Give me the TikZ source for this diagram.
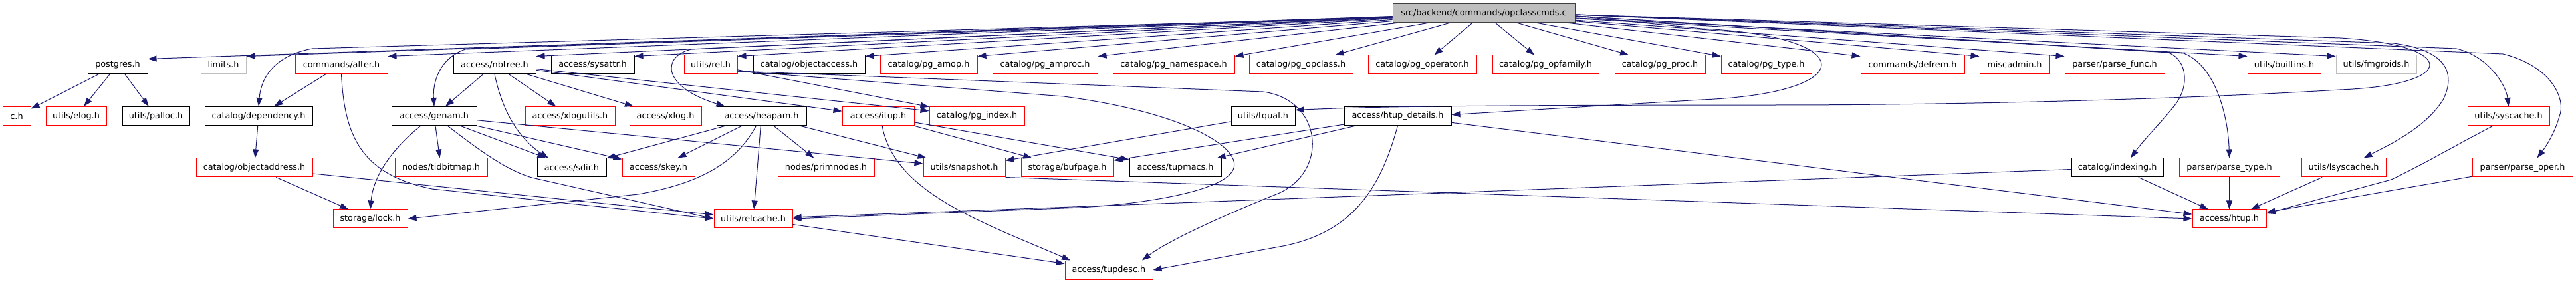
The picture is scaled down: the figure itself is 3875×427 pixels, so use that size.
\documentclass[tikz,border=0pt]{standalone}
\usepackage{fontspec}
\setmainfont{DejaVu Sans}
\usetikzlibrary{arrows.meta}
\definecolor{edgec}{HTML}{191970}
\definecolor{redb}{HTML}{FF0000}
\definecolor{grayb}{HTML}{BFBFBF}
\definecolor{rootfill}{HTML}{BFBFBF}
\tikzset{
 box/.style={draw, line width=1pt, minimum height=28pt, inner sep=0pt, font=\fontsize{12.8}{14}\selectfont, anchor=center},
 blk/.style={box, draw=black},
 redn/.style={box, draw=redb},
 grayn/.style={box, draw=grayb},
 rootn/.style={box, draw=black!75, fill=rootfill},
 edge/.style={draw=edgec, line width=1pt, -{Triangle[length=13pt,width=9pt]}},
}
\begin{document}
\begin{tikzpicture}[x=1pt,y=-1pt]
\useasboundingbox (0,0) rectangle (3875,427);
% root
\node[rootn, minimum width=274pt] (root) at (2232,20) {src/backend/commands/opclasscmds.c};
% row 1
\node[blk, minimum width=90pt] (postgres) at (177,97) {postgres.h};
\node[grayn, minimum width=68pt] (limits) at (336,97) {limits.h};
\node[redn, minimum width=139pt] (alter) at (513.5,97) {commands/alter.h};
\node[blk, minimum width=124pt] (nbtree) at (744,97) {access/nbtree.h};
\node[blk, minimum width=125pt] (sysattr) at (891.5,97) {access/sysattr.h};
\node[redn, minimum width=80pt] (rel) at (1069,97) {utils/rel.h};
\node[blk, minimum width=168pt] (objaccess) at (1217,97) {catalog/objectaccess.h};
\node[redn, minimum width=146pt] (amop) at (1397,97) {catalog/pg\_amop.h};
\node[redn, minimum width=158pt] (amproc) at (1572,97) {catalog/pg\_amproc.h};
\node[redn, minimum width=183pt] (namespace) at (1765.5,97) {catalog/pg\_namespace.h};
\node[redn, minimum width=156pt] (opclass) at (1957,97) {catalog/pg\_opclass.h};
\node[redn, minimum width=163pt] (operator) at (2139.5,97) {catalog/pg\_operator.h};
\node[redn, minimum width=160pt] (opfamily) at (2325,97) {catalog/pg\_opfamily.h};
\node[redn, minimum width=136pt] (proc) at (2497,97) {catalog/pg\_proc.h};
\node[redn, minimum width=136pt] (type) at (2657,97) {catalog/pg\_type.h};
\node[redn, minimum width=156pt] (defrem) at (2877,97) {commands/defrem.h};
\node[redn, minimum width=105pt] (miscadmin) at (3030.5,97) {miscadmin.h};
\node[redn, minimum width=150pt] (parsefunc) at (3181,97) {parser/parse\_func.h};
\node[redn, minimum width=110pt] (builtins) at (3436,97) {utils/builtins.h};
\node[grayn, minimum width=121pt] (fmgroids) at (3574.5,97) {utils/fmgroids.h};
% row 2
\node[redn, minimum width=42pt] (ch) at (25,174.5) {c.h};
\node[redn, minimum width=91pt] (elog) at (114.5,174.5) {utils/elog.h};
\node[blk, minimum width=101pt] (palloc) at (234.5,174.5) {utils/palloc.h};
\node[blk, minimum width=162pt] (dependency) at (389,174.5) {catalog/dependency.h};
\node[blk, minimum width=128pt] (genam) at (653,174.5) {access/genam.h};
\node[redn, minimum width=135pt] (xlogutils) at (857.5,174.5) {access/xlogutils.h};
\node[redn, minimum width=108pt] (xlog) at (1001,174.5) {access/xlog.h};
\node[blk, minimum width=135pt] (heapam) at (1145.5,174.5) {access/heapam.h};
\node[redn, minimum width=108pt] (itup) at (1321,174.5) {access/itup.h};
\node[redn, minimum width=143pt] (pgindex) at (1469.5,174.5) {catalog/pg\_index.h};
\node[blk, minimum width=96pt] (tqual) at (1900,174.5) {utils/tqual.h};
\node[blk, minimum width=161pt] (htupdet) at (2102.5,174.5) {access/htup\_details.h};
\node[redn, minimum width=123pt] (syscache) at (3773.5,174.5) {utils/syscache.h};
% row 3
\node[redn, minimum width=175pt] (objaddr) at (382.5,252) {catalog/objectaddress.h};
\node[redn, minimum width=139pt] (tidbitmap) at (663.5,252) {nodes/tidbitmap.h};
\node[blk, minimum width=104pt] (sdir) at (860,252) {access/sdir.h};
\node[redn, minimum width=109pt] (skey) at (990.5,252) {access/skey.h};
\node[redn, minimum width=145pt] (primnodes) at (1242.5,252) {nodes/primnodes.h};
\node[redn, minimum width=123pt] (snapshot) at (1450.5,252) {utils/snapshot.h};
\node[redn, minimum width=139pt] (bufpage) at (1605.5,252) {storage/bufpage.h};
\node[blk, minimum width=138pt] (tupmacs) at (1768,252) {access/tupmacs.h};
\node[blk, minimum width=138pt] (indexing) at (3185,252) {catalog/indexing.h};
\node[redn, minimum width=151pt] (parsetype) at (3353.5,252) {parser/parse\_type.h};
\node[redn, minimum width=127pt] (lsyscache) at (3525.5,252) {utils/lsyscache.h};
\node[redn, minimum width=151pt] (parseoper) at (3794.5,252) {parser/parse\_oper.h};
% row 4
\node[redn, minimum width=112pt] (lock) at (557,329) {storage/lock.h};
\node[redn, minimum width=118pt] (relcache) at (1133,329) {utils/relcache.h};
\node[redn, minimum width=111pt] (htup) at (3353.5,329) {access/htup.h};
% row 5
\node[redn, minimum width=132pt] (tupdesc) at (1668,406) {access/tupdesc.h};

% root straight edges, left side (to upper right corners)
\draw[edge] (root) -- ([yshift=-6pt]postgres.north east);
\foreach \t in {limits,alter,nbtree,sysattr,rel,objaccess,amop,amproc,namespace}
  \draw[edge] (root) -- ([yshift=-2pt]\t.north east);
\draw[edge] (root) -- ([xshift=-27pt]opclass.north east);
\draw[edge] (root) -- ([xshift=18pt]operator.north);
\draw[edge] (root) -- ([xshift=-17pt]opfamily.north);
\draw[edge] (root) -- ([xshift=-47pt]proc.north);
% right side (to upper left corners)
\foreach \t in {type,defrem,miscadmin,parsefunc,builtins,fmgroids}
  \draw[edge] (root) -- ([yshift=-2pt]\t.north west);
% root curved edges
\draw[edge] ([yshift=-6pt]root.west) -- (470,73) .. controls (405,85) and (392,125) .. (dependency.north);
\draw[edge] ([yshift=-6pt]root.west) -- (700,74) .. controls (660,88) and (651,125) .. (genam.north);
\draw[edge] ([yshift=-6pt]root.west) -- (1040,74) .. controls (995,85) and (995,130) .. ([xshift=-55pt]heapam.north);
\draw[edge] ([yshift=-4pt]root.east) -- (2560,43) .. controls (2800,55) and (2800,140) .. (2560,150) -- ([yshift=2pt]htupdet.east);
\draw[edge] ([yshift=-2pt]root.east) -- (3520,57) .. controls (3700,68) and (3700,128) .. (3520,135) .. controls (3300,148) and (3000,157) .. (2700,158) .. controls (2150,158) and (2050,161) .. ([yshift=9pt]tqual.east);
\draw[edge] ([yshift=-2pt]root.east) -- (3600,65) .. controls (3680,75) and (3695,110) .. (3675,150) .. controls (3650,190) and (3600,215) .. ([xshift=30pt]lsyscache.north);
\draw[edge] ([yshift=-2pt]root.east) -- (3695,73) .. controls (3745,85) and (3770,130) .. (syscache.north);
\draw[edge] ([yshift=-2pt]root.east) -- (3765,81) .. controls (3840,100) and (3860,150) .. (3850,175) .. controls (3843,200) and (3830,220) .. ([xshift=22pt]parseoper.north);
\draw[edge] ([yshift=-4pt]root.east) -- (3262,79) .. controls (3290,90) and (3295,130) .. (3270,160) .. controls (3250,185) and (3225,210) .. ([xshift=20pt]indexing.north);
\draw[edge] ([yshift=-4pt]root.east) -- (3285,80) .. controls (3335,100) and (3352,180) .. (parsetype.north);
% postgres
\draw[edge] (postgres) -- (ch);
\draw[edge] (postgres) -- (elog);
\draw[edge] (postgres) -- (palloc);
% alter
\draw[edge] (alter) -- (dependency);
\draw[edge] (alter.south) .. controls (518,200) and (540,262) .. (650,284) -- (relcache.west);
% dependency / objectaddress
\draw[edge] (dependency) -- (objaddr);
\draw[edge] (objaddr) -- (lock);
\draw[edge] (objaddr) -- (relcache);
% nbtree
\draw[edge] (nbtree) -- (genam);
\draw[edge] (nbtree.south) .. controls (758,180) and (790,215) .. ([xshift=-35pt]sdir.north);
\draw[edge] (nbtree) -- (xlogutils);
\draw[edge] (nbtree) -- (xlog);
\draw[edge] (nbtree) -- (itup);
\draw[edge] (nbtree) -- (pgindex);
% genam
\draw[edge] (genam) -- (tidbitmap);
\draw[edge] (genam) -- (sdir);
\draw[edge] (genam) -- (skey);
\draw[edge] (genam) -- (snapshot);
\draw[edge] ([xshift=-20pt]genam.south) .. controls (595,220) and (562,260) .. (lock.north);
\draw[edge] ([xshift=20pt]genam.south) .. controls (720,225) and (760,255) .. (800,267) -- (relcache.west);
% heapam
\draw[edge] (heapam) -- (sdir);
\draw[edge] (heapam) -- (skey);
\draw[edge] (heapam) -- (primnodes);
\draw[edge] (heapam) -- (relcache);
\draw[edge] (heapam) -- (snapshot);
\draw[edge] ([xshift=-8pt]heapam.south) .. controls (1110,240) and (1060,275) .. (960,292) -- (lock.east);
% rel
\draw[edge] (rel) -- (pgindex);
\draw[edge] ([yshift=-10pt]rel.east) -- (1600,145) .. controls (1790,170) and (1870,225) .. (1855,255) .. controls (1840,290) and (1700,310) .. (1600,313) -- (relcache.east);
\draw[edge] ([yshift=-10pt]rel.east) -- (1900,138) .. controls (1990,150) and (2000,260) .. (1920,292) .. controls (1850,320) and (1760,360) .. ([xshift=50pt]tupdesc.north);
% itup
\draw[edge] (itup) -- (bufpage);
\draw[edge] (itup) -- (tupmacs);
\draw[edge] ([xshift=6pt]itup.south) .. controls (1345,290) and (1480,335) .. ([xshift=-58pt]tupdesc.north);
% tqual
\draw[edge] (tqual) -- (snapshot);
% htup_details
\draw[edge] (htupdet) -- (bufpage);
\draw[edge] (htupdet) -- (tupmacs);
\draw[edge] (htupdet) -- (htup);
\draw[edge] (htupdet.south) .. controls (2075,290) and (2030,350) .. (1930,370) -- (tupdesc.east);
% others
\draw[edge] (snapshot.south east) -- (htup.west);
\draw[edge] (relcache) -- (tupdesc);
\draw[edge] (indexing) -- (relcache);
\draw[edge] (indexing) -- (htup);
\draw[edge] (parsetype) -- (htup);
\draw[edge] (lsyscache) -- (htup);
\draw[edge] ([xshift=-23pt]syscache.south) .. controls (3700,215) and (3640,250) .. (3597,270) -- ([yshift=8pt]htup.east);
\draw[edge] (parseoper) -- (htup);
\end{tikzpicture}
\end{document}
